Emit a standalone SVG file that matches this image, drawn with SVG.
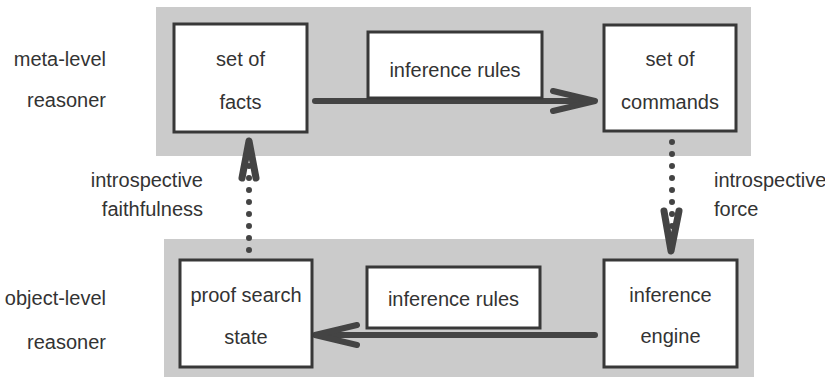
<svg xmlns="http://www.w3.org/2000/svg" width="825" height="380" viewBox="0 0 825 380">
<style>
.band{fill:#cbcbcb}
.box{fill:#ffffff;stroke:#383838;stroke-width:3}
.t{font-family:"Liberation Sans",Arial,sans-serif;font-size:20px;fill:#333333}
.m{text-anchor:middle}
.e{text-anchor:end}
.ln{fill:none;stroke:#444444;stroke-width:6;stroke-linecap:round;stroke-linejoin:round}
.hd{fill:none;stroke:#444444;stroke-width:7;stroke-linecap:round;stroke-linejoin:round}
.dot{fill:none;stroke:#444444;stroke-width:6;stroke-linecap:round;stroke-dasharray:0 12}
</style>
<rect width="825" height="380" fill="#ffffff"/>
<rect class="band" x="156" y="7" width="595" height="149"/>
<rect class="band" x="164" y="239" width="590" height="138"/>
<g id="label-meta">
<text class="t e" x="106" y="66">meta-level</text>
<text class="t e" x="106" y="107">reasoner</text>
</g>
<g id="label-object">
<text class="t e" x="106" y="305">object-level</text>
<text class="t e" x="106" y="349">reasoner</text>
</g>
<g id="label-faith">
<text class="t e" x="203" y="187">introspective</text>
<text class="t e" x="203" y="216">faithfulness</text>
</g>
<g id="label-force">
<text class="t" x="714" y="187">introspective</text>
<text class="t" x="714" y="216">force</text>
</g>
<g id="connectors">
<line class="ln" x1="315" y1="101" x2="592" y2="101"/>
<polyline class="ln" points="553,91 595,101 553,111"/>
<line class="ln" x1="595" y1="335" x2="318" y2="335"/>
<polyline class="ln" points="357,325 315,335 357,345"/>
<line class="dot" x1="249" y1="250" x2="249" y2="154"/>
<polyline class="hd" points="242,178 249,141 256,178"/>
<line class="dot" x1="672" y1="142" x2="672" y2="240"/>
<polyline class="hd" points="664,211 671,251 679,211"/>
</g>
<g id="set-of-facts">
<rect class="box" x="174" y="24" width="133" height="108"/>
<text class="t m" x="240.5" y="66">set of</text>
<text class="t m" x="240.5" y="109">facts</text>
</g>
<g id="inference-rules-meta">
<rect class="box" x="368" y="32" width="174" height="66"/>
<text class="t m" x="455" y="77">inference rules</text>
</g>
<g id="set-of-commands">
<rect class="box" x="604" y="25" width="132" height="106"/>
<text class="t m" x="670" y="66">set of</text>
<text class="t m" x="670" y="109">commands</text>
</g>
<g id="proof-search-state">
<rect class="box" x="180" y="260" width="132" height="107"/>
<text class="t m" x="246" y="302">proof search</text>
<text class="t m" x="246" y="344">state</text>
</g>
<g id="inference-rules-object">
<rect class="box" x="367" y="267" width="173" height="61"/>
<text class="t m" x="453.5" y="306">inference rules</text>
</g>
<g id="inference-engine">
<rect class="box" x="604" y="260" width="133" height="107"/>
<text class="t m" x="670.5" y="302">inference</text>
<text class="t m" x="670.5" y="343">engine</text>
</g>
</svg>
